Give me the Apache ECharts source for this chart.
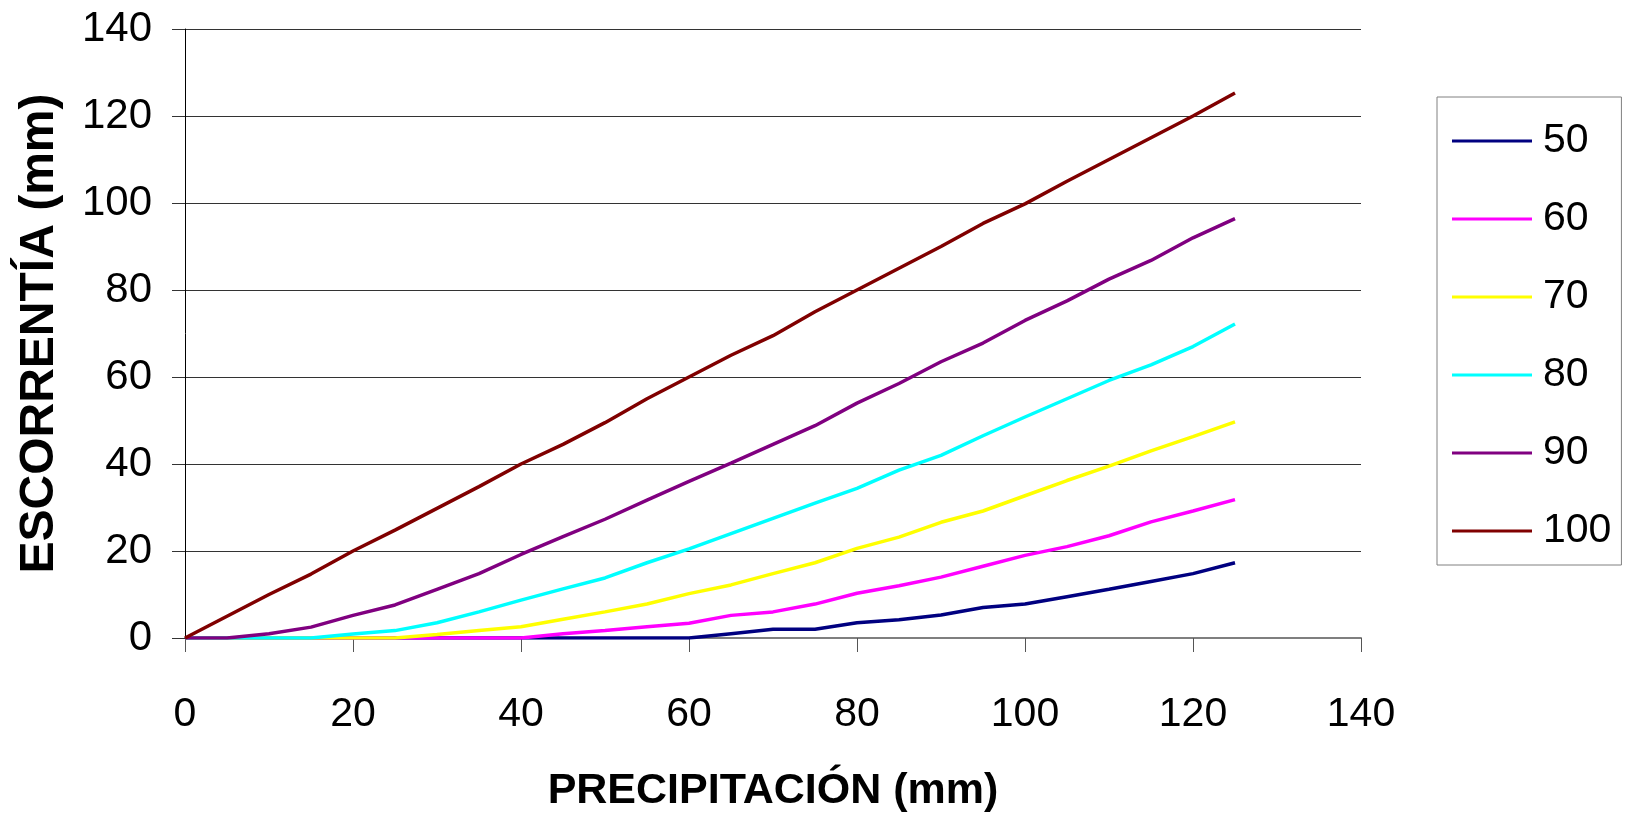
<!DOCTYPE html>
<html>
<head>
<meta charset="utf-8">
<script src="https://cdn.jsdelivr.net/npm/echarts@6/dist/echarts.min.js"></script>
<style>
html,body{margin:0;padding:0;background:#fff;}
#chart{width:1630px;height:822px;}
</style>
</head>
<body>
<div id="chart"></div>
<script>
// Precipitation (mm) – x values
const precip = [0,5,10,15,20,25,30,35,40,45,50,55,60,65,70,75,80,85,90,95,100,105,110,115,120,125];
// Runoff (mm) per curve number
const cn50  = [0,0,0,0,0,0,0,0,0,0,0,0,0,1,2,2,3.5,4.2,5.3,7,7.8,9.5,11.2,13,14.8,17.3];
const cn60  = [0,0,0,0,0,0,0,0,0,1,1.7,2.6,3.4,5.2,6,7.8,10.3,12,14,16.5,19,21,23.5,26.7,29.2,31.8];
const cn70  = [0,0,0,0,0,0,0.8,1.7,2.6,4.3,6,7.8,10.2,12.2,14.8,17.3,20.6,23.2,26.6,29.2,32.7,36.2,39.5,43,46.3,49.7];
const cn80  = [0,0,0,0,0.9,1.7,3.5,6,8.7,11.3,13.8,17.3,20.5,24,27.5,31,34.4,38.6,42,46.5,50.8,55,59.2,62.8,67,72.2];
const cn90  = [0,0,1,2.5,5.2,7.6,11.2,14.8,19.2,23.3,27.3,31.7,36,40.2,44.5,48.8,54,58.5,63.5,67.8,73,77.5,82.5,86.8,92,96.4];
const cn100 = [0,5,10,14.7,20,24.8,29.8,34.8,40,44.5,49.5,55,60,65,69.5,75,80,85,90,95.3,99.8,105,110,115,120,125.3];

const seriesNames = ['50','60','70','80','90','100'];
const seriesValues = [cn50, cn60, cn70, cn80, cn90, cn100];
const seriesColors = ['#000080','#FF00FF','#FFFF00','#00FFFF','#800080','#800000'];

const xAxisName = 'PRECIPITACIÓN (mm)';
const yAxisName = 'ESCORRENTÍA (mm)';

const chart = echarts.init(document.getElementById('chart'), null, {renderer:'canvas'});

const series = seriesNames.map((name, i) => ({
  name: name,
  type: 'line',
  data: precip.map((p, j) => [p, seriesValues[i][j]]),
  showSymbol: false,
  symbol: 'none',
  smooth: false,
  lineStyle: { color: seriesColors[i], width: 3.5 },
  itemStyle: { color: seriesColors[i] },
  emphasis: { disabled: true },
  animation: false
}));

chart.setOption({
  animation: false,
  backgroundColor: '#ffffff',
  grid: { left: 185, top: 29, width: 1176, height: 609, containLabel: false },
  legend: {
    orient: 'vertical',
    left: 1437,
    top: 97,
    padding: [21, 10, 11, 15],
    borderColor: '#808080',
    borderWidth: 1,
    itemWidth: 80,
    itemHeight: 20,
    itemGap: 32,
    icon: 'path://M0,8.5 L80,8.5 L80,11.5 L0,11.5 Z',
    data: seriesNames,
    textStyle: {
      fontFamily: '"Liberation Sans", Arial, sans-serif',
      fontSize: 41,
      lineHeight: 46,
      color: '#000',
      padding: [0, 0, 0, 6]
    }
  },
  xAxis: {
    type: 'value',
    min: 0, max: 140, interval: 20,
    name: xAxisName,
    nameLocation: 'middle',
    nameGap: 132,
    nameTextStyle: {
      fontFamily: '"Liberation Sans", Arial, sans-serif',
      fontWeight: 'bold', fontSize: 43, color: '#000'
    },
    axisLine: { show: true, onZero: false, lineStyle: { color: '#7f7f7f', width: 2 } },
    axisTick: { show: true, inside: false, length: 14, lineStyle: { color: '#555', width: 1 } },
    axisLabel: {
      margin: 56,
      fontFamily: '"Liberation Sans", Arial, sans-serif',
      fontSize: 41, color: '#000'
    },
    splitLine: { show: false }
  },
  yAxis: {
    type: 'value',
    min: 0, max: 140, interval: 20,
    name: yAxisName,
    nameLocation: 'middle',
    nameRotate: 90,
    nameGap: 121,
    nameTextStyle: {
      fontFamily: '"Liberation Sans", Arial, sans-serif',
      fontWeight: 'bold', fontSize: 48, color: '#000'
    },
    axisLine: { show: true, lineStyle: { color: '#000', width: 1 } },
    axisTick: { show: true, inside: false, length: 13, lineStyle: { color: '#333', width: 1 } },
    axisLabel: {
      margin: 33,
      fontFamily: '"Liberation Sans", Arial, sans-serif',
      fontSize: 42, color: '#000'
    },
    splitLine: { show: true, lineStyle: { color: '#333', width: 1 } }
  },
  series: series
});
</script>
</body>
</html>
